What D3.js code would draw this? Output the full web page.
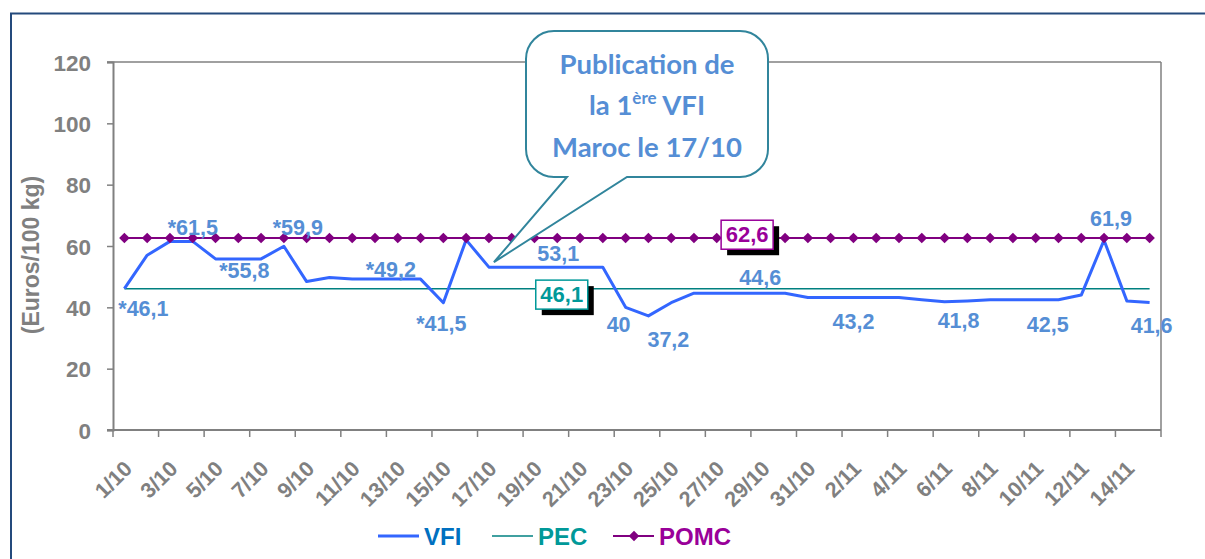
<!DOCTYPE html>
<html>
<head>
<meta charset="utf-8">
<script src="https://cdn.jsdelivr.net/npm/d3@7"></script>
<style>
  body { margin: 0; background: #fff; }
  svg { display: block; font-family: "Liberation Sans", Arial, sans-serif; }
</style>
</head>
<body>
<div id="chart"></div>
<script>
//Données du graphique
const dates = ["1/10","2/10","3/10","4/10","5/10","6/10","7/10","8/10","9/10","10/10",
  "11/10","12/10","13/10","14/10","15/10","16/10","17/10","18/10","19/10","20/10",
  "21/10","22/10","23/10","24/10","25/10","26/10","27/10","28/10","29/10","30/10",
  "31/10","1/11","2/11","3/11","4/11","5/11","6/11","7/11","8/11","9/11",
  "10/11","11/11","12/11","13/11","14/11","15/11"];

const vfi = [46.1, 57.0, 61.5, 61.5, 55.8, 55.8, 55.8, 59.9, 48.4, 49.7,
  49.2, 49.2, 49.2, 49.2, 41.5, 62.0, 53.1, 53.1, 53.1, 53.1,
  53.1, 53.1, 40.0, 37.2, 41.5, 44.6, 44.6, 44.6, 44.6, 44.6,
  43.2, 43.2, 43.2, 43.2, 43.2, 42.5, 41.8, 42.1, 42.5, 42.5,
  42.5, 42.5, 44.0, 61.9, 42.1, 41.6];

const pecValue = 46.1;
const pomcValue = 62.6;

const yTicks = [0, 20, 40, 60, 80, 100, 120];

//------Étiquettes de la série VFI (date, texte)
const vfiLabels = [
  ["1/10", "*46,1"], ["4/10", "*61,5"], ["6/10", "*55,8"], ["8/10", "*59,9"],
  ["13/10", "*49,2"], ["15/10", "*41,5"], ["20/10", "53,1"], ["23/10", "40"],
  ["24/10", "37,2"], ["29/10", "44,6"], ["2/11", "43,2"], ["6/11", "41,8"],
  ["10/11", "42,5"], ["13/11", "61,9"], ["15/11", "41,6"]
];
//------Décalages des étiquettes (pixels)
const labelOffsets = [[19, 27], [0, -6], [6, 19], [14, -11], [-7, -2], [-2, 28], [1, -6], [-7, 25],
  [20, 31], [-2, -8], [0, 31], [14, 26], [12, 32], [7, -14], [2, 31]];

//Création du svg
const W = 1205, H = 559;
const svg = d3.select("#chart").append("svg")
  .attr("width", W).attr("height", H);

const margin = { top: 62, bottom: 129, left: 113, right: 44 };

//------Cadre extérieur
svg.append("rect")
  .attr("x", 11).attr("y", 13.5)
  .attr("width", 1220).attr("height", 600)
  .attr("fill", "none")
  .attr("stroke", "#244a7c")
  .attr("stroke-width", 2);

//------Échelles
const xScale = d3.scaleBand()
  .domain(dates)
  .range([margin.left, W - margin.right]);
const bw = xScale.bandwidth();
const cx = d => xScale(d) + bw / 2;

const yScale = d3.scaleLinear()
  .domain([0, 120])
  .range([H - margin.bottom, margin.top]);

const grey = "#808080";

//------Bordure de la zone de tracé (haut et droite)
svg.append("line")
  .attr("x1", margin.left - 6).attr("x2", W - margin.right)
  .attr("y1", yScale(120)).attr("y2", yScale(120))
  .attr("stroke", grey).attr("stroke-width", 1.5);
svg.append("line")
  .attr("x1", W - margin.right).attr("x2", W - margin.right)
  .attr("y1", yScale(120)).attr("y2", yScale(0) + 7)
  .attr("stroke", grey).attr("stroke-width", 1.5);

//------Axe y
const yAxis = svg.append("g")
  .attr("transform", `translate(${margin.left},0)`)
  .call(d3.axisLeft(yScale).tickValues(yTicks).tickSize(6).tickPadding(16));
yAxis.select(".domain").attr("stroke", grey).attr("stroke-width", 2);
yAxis.selectAll(".tick line").attr("stroke", grey).attr("stroke-width", 1.5);
yAxis.selectAll(".tick text")
  .attr("fill", grey)
  .attr("font-size", 22.5)
  .attr("font-weight", "bold")
  .attr("dy", "0.36em");

svg.append("text")
  .attr("transform", `translate(39,255) rotate(-90)`)
  .attr("text-anchor", "middle")
  .attr("fill", grey)
  .attr("font-size", 23)
  .attr("font-weight", "bold")
  .text("(Euros/100 kg)");

//------Axe x (graduations toutes les deux dates)
const xAxis = svg.append("g");
xAxis.append("line")
  .attr("x1", margin.left - 6).attr("x2", W - margin.right)
  .attr("y1", yScale(0)).attr("y2", yScale(0))
  .attr("stroke", grey).attr("stroke-width", 2);

const tickDates = dates.filter((d, i) => i % 2 === 0);
xAxis.selectAll(".xtick")
  .data(tickDates)
  .enter()
  .append("line")
  .attr("x1", d => xScale(d)).attr("x2", d => xScale(d))
  .attr("y1", yScale(0)).attr("y2", yScale(0) + 7)
  .attr("stroke", grey).attr("stroke-width", 1.5);

xAxis.selectAll(".xlabel")
  .data(tickDates)
  .enter()
  .append("text")
  .attr("transform", d => `translate(${cx(d) + 9},${yScale(0) + 40}) rotate(-45)`)
  .attr("text-anchor", "end")
  .attr("fill", grey)
  .attr("font-size", 21.5)
  .attr("font-weight", "bold")
  .text(d => d);

//------Courbe PEC
svg.append("line")
  .attr("x1", cx(dates[0])).attr("x2", cx(dates[dates.length - 1]))
  .attr("y1", yScale(pecValue)).attr("y2", yScale(pecValue))
  .attr("stroke", "#008080").attr("stroke-width", 1.5);

//------Courbe VFI
const line = d3.line()
  .x((v, i) => cx(dates[i]))
  .y(v => yScale(v));
svg.append("path")
  .datum(vfi)
  .attr("d", line)
  .attr("fill", "none")
  .attr("stroke", "#3366ff")
  .attr("stroke-width", 3)
  .attr("stroke-linejoin", "round");

//------Courbe POMC avec losanges
svg.append("line")
  .attr("x1", cx(dates[0])).attr("x2", cx(dates[dates.length - 1]))
  .attr("y1", yScale(pomcValue)).attr("y2", yScale(pomcValue))
  .attr("stroke", "#800080").attr("stroke-width", 2);

const diamond = d3.symbol().type(d3.symbolSquare).size(56);
svg.selectAll(".pomc")
  .data(dates)
  .enter()
  .append("path")
  .attr("d", diamond)
  .attr("transform", d => `translate(${cx(d)},${yScale(pomcValue)}) rotate(45)`)
  .attr("fill", "#800080");

//------Étiquettes VFI
svg.selectAll(".vfilabel")
  .data(vfiLabels)
  .enter()
  .append("text")
  .attr("x", (d, i) => cx(d[0]) + labelOffsets[i][0])
  .attr("y", (d, i) => yScale(vfi[dates.indexOf(d[0])]) + labelOffsets[i][1])
  .attr("text-anchor", "middle")
  .attr("fill", "#558ed5")
  .attr("font-size", 21.5)
  .attr("font-weight", "bold")
  .text(d => d[1]);

//------Encadrés des valeurs PEC et POMC
function boite(date, value, dx, dy, color) {
  const x = cx(date) + dx - 26, y = yScale(value) + dy - 14.5;
  svg.append("rect")
    .attr("x", x + 6).attr("y", y + 6)
    .attr("width", 52).attr("height", 29)
    .attr("fill", "#000");
  svg.append("rect")
    .attr("x", x).attr("y", y)
    .attr("width", 52).attr("height", 29)
    .attr("fill", "#fff")
    .attr("stroke", color).attr("stroke-width", 1.5);
  svg.append("text")
    .attr("x", x + 26).attr("y", y + 22)
    .attr("text-anchor", "middle")
    .attr("fill", color)
    .attr("font-size", 22)
    .attr("font-weight", "bold")
    .text(String(value).replace(".", ","));
}
boite("20/10", pecValue, 4.5, 6, "#009999");
boite("28/10", pomcValue, 7.6, -3.3, "#990099");

//------Bulle "Publication de la 1ère VFI"
const tipX = cx("17/10") + 5, tipY = yScale(53.1) - 5;
const bx0 = 526, bx1 = 768, by0 = 31, by1 = 177, r = 28;
const bulle = d3.path();
bulle.moveTo(bx0 + r, by0);
bulle.lineTo(bx1 - r, by0);
bulle.arcTo(bx1, by0, bx1, by0 + r, r);
bulle.lineTo(bx1, by1 - r);
bulle.arcTo(bx1, by1, bx1 - r, by1, r);
bulle.lineTo(627, by1);
bulle.lineTo(tipX, tipY);
bulle.lineTo(567, by1);
bulle.lineTo(bx0 + r, by1);
bulle.arcTo(bx0, by1, bx0, by1 - r, r);
bulle.lineTo(bx0, by0 + r);
bulle.arcTo(bx0, by0, bx0 + r, by0, r);
bulle.closePath();

svg.append("path")
  .attr("d", bulle.toString())
  .attr("fill", "#fff")
  .attr("stroke", "#31859c")
  .attr("stroke-width", 2);

const bt = svg.append("text")
  .attr("text-anchor", "middle")
  .attr("fill", "#558ed5")
  .attr("font-family", "Lato, 'Open Sans', sans-serif")
  .attr("font-weight", "bold")
  .attr("font-size", 27.5);
bt.append("tspan").attr("x", 647).attr("y", 74).text("Publication de");
const l2 = svg.append("text")
  .attr("x", 647).attr("y", 115)
  .attr("text-anchor", "middle")
  .attr("fill", "#558ed5")
  .attr("font-family", "Lato, 'Open Sans', sans-serif")
  .attr("font-weight", "bold")
  .attr("font-size", 27.5);
l2.append("tspan").text("la 1");
l2.append("tspan").attr("font-size", 17).attr("dy", -11).text("ère");
l2.append("tspan").attr("dy", 11).text(" VFI");
bt.append("tspan").attr("x", 647).attr("y", 157).text("Maroc le 17/10");

//------Légende
const legende = [
  { name: "VFI", line: "#3366ff", text: "#0070c0", w: 3, x: 378 },
  { name: "PEC", line: "#008080", text: "#009999", w: 1.5, x: 492 },
  { name: "POMC", line: "#800080", text: "#990099", w: 2, x: 613 }
];
const lg = svg.selectAll(".legende")
  .data(legende)
  .enter()
  .append("g")
  .attr("transform", d => `translate(${d.x},536)`);
lg.append("line")
  .attr("x1", 0).attr("x2", 41)
  .attr("stroke", d => d.line)
  .attr("stroke-width", d => d.w);
lg.filter(d => d.name === "POMC")
  .append("path")
  .attr("d", diamond)
  .attr("transform", "translate(21,0) rotate(45)")
  .attr("fill", "#800080");
lg.append("text")
  .attr("x", 46).attr("y", 9)
  .attr("fill", d => d.text)
  .attr("font-size", 24)
  .attr("font-weight", "bold")
  .text(d => d.name);
</script>
</body>
</html>
